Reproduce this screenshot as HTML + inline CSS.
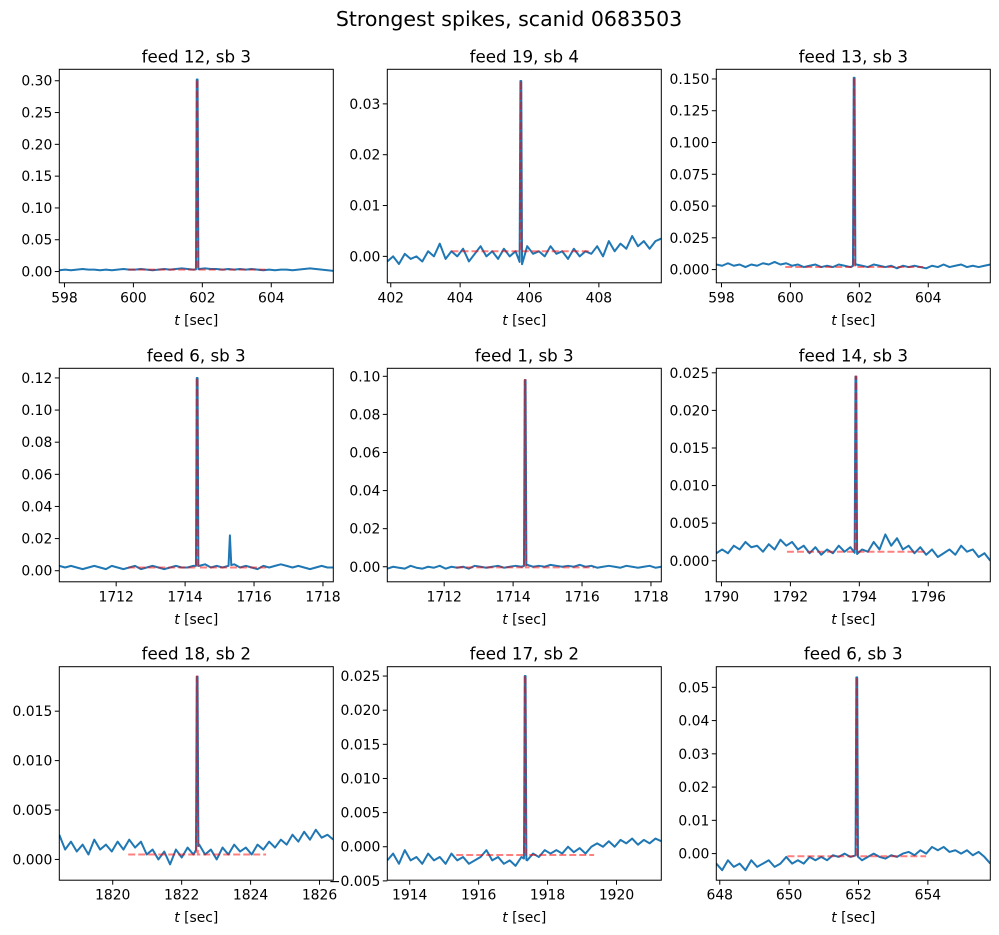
<!DOCTYPE html>
<html><head><meta charset="utf-8"><style>
body{margin:0;background:#fff}
svg{display:block;font-family:"DejaVu Sans","Liberation Sans",sans-serif}
</style></head><body>
<svg id="fig" width="999" height="935" viewBox="0 0 999 935">
<text x="509" y="26" font-size="20.5" text-anchor="middle">Strongest spikes, scanid 0683503</text>
</svg>
<script>
const titles=["feed 12, sb 3","feed 19, sb 4","feed 13, sb 3","feed 6, sb 3","feed 1, sb 3","feed 14, sb 3","feed 18, sb 2","feed 17, sb 2","feed 6, sb 3"];
const xMins=[597.85,401.9,597.85,1710.35,1710.35,1789.85,1818.45,1913.35,647.9];
const xMaxs=[605.8,409.8,605.8,1718.3,1718.3,1797.8,1826.4,1921.3,655.8];
const yMins=[-0.0177,-0.0052,-0.0104,-0.0069,-0.0079,-0.0028,-0.0021,-0.0049,-0.008];
const yMaxs=[0.318,0.0368,0.1576,0.126,0.1042,0.0256,0.0195,0.02637,0.0562];
const spikeTimes=[601.85,405.75,601.85,1714.35,1714.35,1793.9,1822.45,1917.35,651.95];
const spikeHeights=[0.302,0.0345,0.151,0.12,0.098,0.0245,0.0185,0.025,0.053];
const fitLevels=[0.003,0.001,0.002,0.002,-0.0003,0.0012,0.0005,-0.0012,-0.0008];
const extraSpikeTimes=[null,null,null,1715.3,null,null,null,null,null];
const extraSpikeHeights=[null,null,null,0.022,null,null,null,null,null];
const yTicks=[[0,0.05,0.1,0.15,0.2,0.25,0.3],[0,0.01,0.02,0.03],[0,0.025,0.05,0.075,0.1,0.125,0.15],[0,0.02,0.04,0.06,0.08,0.1,0.12],[0,0.02,0.04,0.06,0.08,0.1],[0,0.005,0.01,0.015,0.02,0.025],[0,0.005,0.01,0.015],[-0.005,0,0.005,0.01,0.015,0.02,0.025],[0,0.01,0.02,0.03,0.04,0.05]];
const yDecimals=[2,2,3,2,2,3,3,3,2];
const n1=[0.002,0.003,0.002,0.003,0.004,0.003,0.003,0.002,0.003,0.002,0.003,0.004,0.003,0.003,0.004,0.003,0.002,0.003,0.004,0.003,0.004,0.005,0.004,0.003,0.004,0.005,0.004,0.004,0.003,0.004,0.003,0.004,0.003,0.004,0.003,0.002,0.003,0.002,0.003,0.003,0.002,0.003,0.004,0.005,0.004,0.003,0.002,0.001];
const n2=[-0.001,0.0,-0.0015,0.0005,-0.0005,0.0,-0.001,0.001,0.0,0.0025,-0.0005,0.001,0.0,0.0015,-0.001,0.0005,0.002,0.0,0.001,-0.0005,0.0015,0.0,0.001,-0.002,0.002,0.0005,0.001,0.0,0.002,0.0005,0.001,-0.0005,0.0015,0.0,0.001,0.0005,0.002,0.0,0.003,0.001,0.0025,0.0015,0.004,0.002,0.003,0.0015,0.003,0.0035];
const n3=[0.004,0.003,0.005,0.003,0.004,0.002,0.004,0.003,0.005,0.004,0.006,0.004,0.005,0.003,0.004,0.002,0.003,0.004,0.002,0.003,0.002,0.004,0.003,0.002,0.004,0.003,0.002,0.004,0.003,0.002,0.003,0.001,0.003,0.002,0.003,0.002,0.001,0.003,0.002,0.004,0.002,0.003,0.004,0.002,0.003,0.002,0.003,0.004];
const n4=[0.003,0.002,0.003,0.002,0.001,0.002,0.003,0.002,0.001,0.003,0.002,0.001,0.002,0.003,0.001,0.002,0.003,0.002,0.001,0.002,0.003,0.002,0.002,0.003,0.003,0.004,0.002,0.003,0.002,0.003,0.004,0.002,0.003,0.002,0.001,0.003,0.002,0.003,0.004,0.003,0.002,0.003,0.002,0.001,0.002,0.003,0.002,0.002];
const n5=[-0.001,0.0,-0.0005,-0.001,0.0005,-0.0005,-0.001,0.0,-0.0005,0.0005,-0.001,0.0,-0.0005,0.0,-0.001,0.0005,0.0,-0.0005,0.0,0.0005,-0.0005,0.0,0.0005,0.0,0.001,0.0,0.0005,0.0,0.001,0.0005,0.0,0.0005,0.0,0.001,0.0,0.0005,-0.0005,0.0,0.0005,0.0,-0.0005,0.0005,0.0,-0.0005,0.0,0.0005,-0.0005,0.0];
const n6=[0.001,0.0015,0.001,0.002,0.0015,0.0025,0.0018,0.002,0.0012,0.0022,0.0015,0.0028,0.002,0.0025,0.0015,0.002,0.001,0.0018,0.0008,0.0015,0.001,0.002,0.0012,0.0018,0.0008,0.0015,0.0012,0.0025,0.0015,0.0035,0.002,0.003,0.0015,0.002,0.001,0.0018,0.0008,0.0015,0.0005,0.001,0.0015,0.0008,0.002,0.0012,0.0015,0.0005,0.001,0.0];
const n7=[0.0025,0.001,0.0018,0.0008,0.0015,0.0005,0.002,0.001,0.0015,0.0008,0.0018,0.001,0.002,0.0012,0.0018,0.0005,0.001,0.0,0.0008,-0.0005,0.001,0.0002,0.0012,0.0005,0.0015,0.0005,0.001,0.0,0.0012,0.0005,0.0015,0.0008,0.0012,0.0005,0.0015,0.001,0.0018,0.0012,0.002,0.0015,0.0025,0.0018,0.0028,0.002,0.003,0.0022,0.0025,0.002];
const n8=[-0.002,-0.001,-0.0025,-0.0005,-0.002,-0.0015,-0.0025,-0.001,-0.002,-0.0015,-0.0025,-0.001,-0.002,-0.0015,-0.0025,-0.002,-0.0015,-0.0005,-0.002,-0.0015,-0.0025,-0.002,-0.0028,-0.0015,-0.002,-0.001,-0.0015,-0.0005,-0.001,-0.0005,-0.001,0.0,-0.0008,-0.0002,-0.001,0.0,0.0005,0.0,0.0008,0.0,0.001,0.0005,0.0012,0.0003,0.001,0.0005,0.0012,0.0008];
const n9=[-0.003,-0.005,-0.002,-0.004,-0.003,-0.005,-0.002,-0.004,-0.003,-0.002,-0.004,-0.003,-0.001,-0.003,-0.002,-0.003,-0.001,-0.002,-0.001,-0.002,-0.0005,-0.001,0.0,-0.001,-0.0005,-0.002,-0.001,0.0,-0.001,-0.0015,-0.0005,-0.001,0.0,0.0005,-0.0005,0.001,0.0,0.002,0.001,0.002,0.0005,0.001,0.0,0.001,-0.0005,0.0005,-0.001,-0.003];
const noise=[n1,n2,n3,n4,n5,n6,n7,n8,n9];

const NS='http://www.w3.org/2000/svg';
const svg=document.getElementById('fig');
const colX=[59.3,387.3,716.3], rowY=[69.3,368.3,666.7], AW=274, AH=213.5;
function mk(tag,attrs,parent){const e=document.createElementNS(NS,tag);for(const k in attrs)e.setAttribute(k,attrs[k]);(parent||svg).appendChild(e);return e;}
function fmt(v,d){const s=Math.abs(v).toFixed(d);return (v<-1e-12?'\u2212':'')+s;}

for(let i=0;i<9;i++){
  const L=colX[i%3], T=rowY[Math.floor(i/3)];
  const g=mk('g',{});
  
  
  const sx=v=>L+(v-xMins[i])/(xMaxs[i]-xMins[i])*AW;
  const sy=v=>T+AH-(v-yMins[i])/(yMaxs[i]-yMins[i])*AH;
  const cid='clip'+i;
  const cp=mk('clipPath',{id:cid},g); mk('rect',{x:L,y:T,width:AW,height:AH},cp);
  const nz=noise[i]; const pts=[];
  for(let k=0;k<nz.length;k++){pts.push([xMins[i]+k*(xMaxs[i]-xMins[i])/(nz.length-1),nz[k]]);}
  const base=t=>{const f=(t-xMins[i])/(xMaxs[i]-xMins[i])*(nz.length-1);const k=Math.max(0,Math.min(nz.length-2,Math.floor(f)));return nz[k]+(nz[k+1]-nz[k])*(f-k);};
  const st=spikeTimes[i];
  const filtered=pts.filter(p=>Math.abs(p[0]-st)>=0.035);
  filtered.push([st-0.035,base(st-0.035)],[st-0.012,spikeHeights[i]],[st+0.012,spikeHeights[i]],[st+0.035,base(st+0.035)]);
  if(extraSpikeTimes[i]!==null){const et=extraSpikeTimes[i];filtered.push([et-0.04,base(et-0.04)],[et,extraSpikeHeights[i]],[et+0.04,base(et+0.04)]);}
  filtered.sort((a,b)=>a[0]-b[0]);
  const line=mk('polyline',{points:filtered.map(p=>sx(p[0]).toFixed(2)+','+sy(p[1]).toFixed(2)).join(' '),fill:'none',stroke:'#1f77b4','stroke-width':2,'stroke-linejoin':'round','clip-path':'url(#'+cid+')'},g);
  
  
  const fl=fitLevels[i];
  const fp=[[st-2,fl],[st-0.02,fl],[st-0.008,spikeHeights[i]],[st+0.008,spikeHeights[i]],[st+0.02,fl],[st+2,fl]];
  const fit=mk('polyline',{points:fp.map(p=>sx(p[0]).toFixed(2)+','+sy(p[1]).toFixed(2)).join(' '),fill:'none',stroke:'#ff0000','stroke-opacity':0.5,'stroke-width':2,'stroke-dasharray':'7,3','clip-path':'url(#'+cid+')'},g);
  
  
  const fr=mk('rect',{x:L,y:T,width:AW,height:AH,fill:'none',stroke:'#000','stroke-width':1},g);
  
  
  for(let t=Math.ceil(xMins[i]/2)*2;t<=xMaxs[i];t+=2){
    const x=sx(t);
    mk('line',{x1:x,x2:x,y1:T+AH,y2:T+AH+4.5,stroke:'#000','stroke-width':1},g);
    const tl=mk('text',{x:x,y:T+AH+19.5,'font-size':13.9,'text-anchor':'middle'},g);
    tl.textContent=String(t);
    
    
  }
  yTicks[i].forEach(v=>{
    const y=sy(v);
    mk('line',{x1:L-4.5,x2:L,y1:y,y2:y,stroke:'#000','stroke-width':1},g);
    const tl=mk('text',{x:L-7,y:y+5,'font-size':13.9,'text-anchor':'end'},g);
    tl.textContent=fmt(v,yDecimals[i]);
    
    
  });
  const xl=mk('text',{x:L+AW/2,y:T+AH+42,'font-size':13.9,'text-anchor':'middle'},g);
  xl.innerHTML='<tspan font-style="italic">t</tspan> [sec]';
  
  
  const tt=mk('text',{x:L+AW/2,y:T-7,'font-size':16.7,'text-anchor':'middle'},g);
  tt.textContent=titles[i];
  
  
}
</script>
</body></html>
